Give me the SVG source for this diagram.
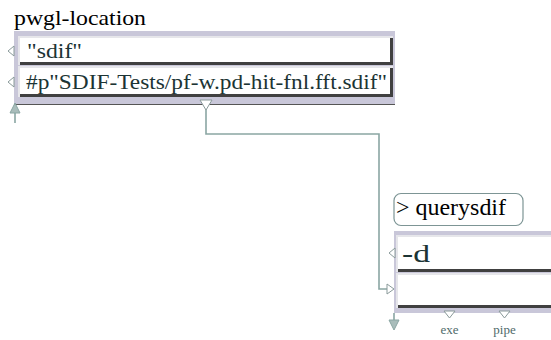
<svg xmlns="http://www.w3.org/2000/svg" width="551" height="340" viewBox="0 0 551 340">
<style>
text{font-family:"Liberation Serif","Times New Roman",serif}
.title{font-size:21px;fill:#000}
.val{font-size:22px;fill:#1c3434}
.lav{fill:#c9c7d9}
.fbg{fill:#e6e6ea}
.fw{fill:#ffffff}
.dk{fill:#404040}
.wire{fill:none;stroke:#8aa6a3;stroke-width:1.6}
.inlet{fill:#ffffff;stroke:#8a9a9a;stroke-width:1}
.solid{fill:#a9bdbb;stroke:#8aa6a3;stroke-width:1}
.lbl{font-size:13px;fill:#4f6a6a}
</style>
<g id="connectors">
<polyline class="wire" points="206,109 206,134 379,134 379,289 388,289"/>
<polygon class="inlet" points="387,284 394,289 387,294"/>
</g>
<g id="pwgl-location">
<text class="title" x="14" y="25" textLength="132" lengthAdjust="spacingAndGlyphs">pwgl-location</text>
<rect class="lav" x="14" y="31" width="381" height="73"/>
<line x1="14" y1="104.5" x2="395" y2="104.5" stroke="#555" stroke-width="1"/>
<rect class="fbg" x="18" y="36" width="375" height="29"/>
<rect class="fw" x="20" y="38" width="370" height="24"/>
<rect class="dk" x="20" y="62" width="373" height="3"/>
<rect class="dk" x="390" y="38" width="3" height="27"/>
<rect class="fbg" x="18" y="66" width="375" height="31"/>
<rect class="fw" x="20" y="68" width="370" height="26"/>
<rect class="dk" x="20" y="94" width="373" height="3"/>
<rect class="dk" x="390" y="68" width="3" height="29"/>
<text class="val" x="27" y="58" textLength="55" lengthAdjust="spacingAndGlyphs">"sdif"</text>
<text class="val" x="26" y="89" textLength="361" lengthAdjust="spacingAndGlyphs">#p"SDIF-Tests/pf-w.pd-hit-fnl.fft.sdif"</text>
<polygon class="inlet" points="14,46 8,51 14,56"/>
<polygon class="inlet" points="14,77 8,82 14,87"/>
<polygon class="inlet" points="200,100 212,100 206,110"/>
<line x1="15" y1="112" x2="15" y2="123" stroke="#8aa6a3" stroke-width="1.6"/>
<polygon class="solid" points="15,103 20,113 10,113"/>
</g>
<g id="querysdif">
<rect x="394" y="193.5" width="129" height="32" rx="7" fill="#ffffff" stroke="#7d9595" stroke-width="1.2"/>
<text x="396" y="215" font-size="23" fill="#000" textLength="110" lengthAdjust="spacingAndGlyphs">&gt; querysdif</text>
<rect class="lav" x="394" y="231" width="160" height="82"/>
<rect class="fbg" x="396" y="235" width="158" height="37"/>
<rect class="fw" x="398" y="237" width="156" height="32"/>
<rect class="dk" x="398" y="269" width="156" height="3"/>
<rect class="fbg" x="396" y="273" width="158" height="35"/>
<rect class="fw" x="398" y="275" width="156" height="30"/>
<rect class="dk" x="398" y="305" width="156" height="3"/>
<text x="402" y="262" font-size="25" fill="#1c3434" textLength="28" lengthAdjust="spacingAndGlyphs">-d</text>
<polygon class="inlet" points="395,248 389,253 395,258"/>
<polygon class="inlet" points="444,311 455,311 449.5,318"/>
<polygon class="inlet" points="499,311 510,311 504.5,318"/>
<text class="lbl" x="449.5" y="334" text-anchor="middle">exe</text>
<text class="lbl" x="504.5" y="334" text-anchor="middle">pipe</text>
<line x1="394" y1="313" x2="394" y2="321" stroke="#8aa6a3" stroke-width="1.6"/>
<polygon class="solid" points="389,320 399,320 394,330"/>
</g>
</svg>
